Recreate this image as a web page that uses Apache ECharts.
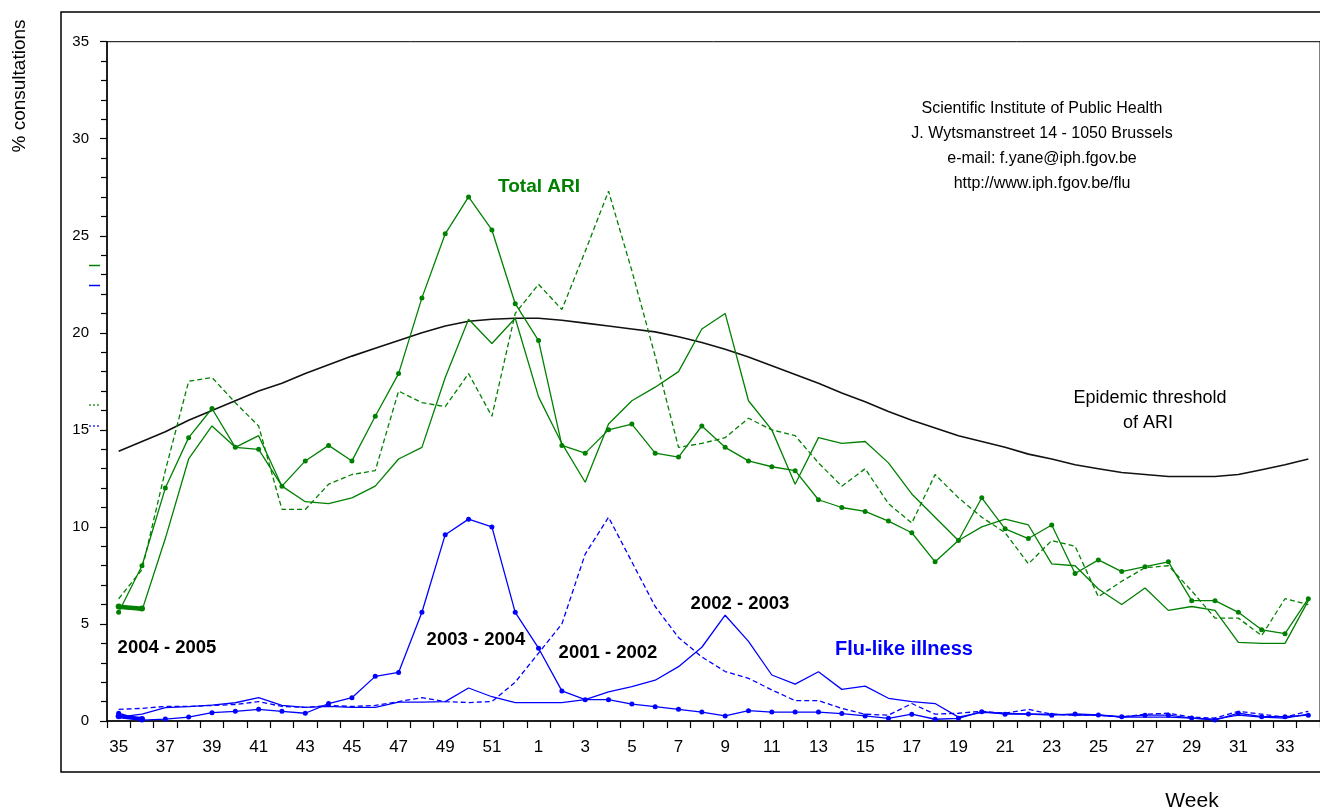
<!DOCTYPE html>
<html>
<head>
<meta charset="utf-8">
<script src="https://cdn.jsdelivr.net/npm/echarts@6/dist/echarts.min.js"></script>
<style>
html,body{margin:0;padding:0;background:#fff;}
#chart{width:1320px;height:810px;}
</style>
</head>
<body>
<div id="chart"></div>
<script>
// Weeks 35..52 then 1..34
const weeks = ['35','36','37','38','39','40','41','42','43','44','45','46','47','48','49','50','51','52',
  '1','2','3','4','5','6','7','8','9','10','11','12','13','14','15','16','17','18','19','20','21','22','23','24','25','26','27','28','29','30','31','32','33','34'];

// Epidemic threshold of ARI
const threshold = [13.9,14.4,14.9,15.5,16.0,16.5,17.0,17.4,17.9,18.35,18.8,19.2,19.6,20.0,20.35,20.6,20.7,20.75,
  20.75,20.65,20.5,20.35,20.2,20.05,19.8,19.5,19.15,18.75,18.3,17.85,17.4,16.9,16.45,15.95,15.5,15.1,14.7,14.4,14.1,13.75,13.5,13.2,13.0,12.8,12.7,12.6,12.6,12.6,12.7,12.95,13.2,13.5];

// Total ARI
const ari0405 = [5.9,5.8];
const ari0304 = [5.6,8.0,12.0,14.6,16.1,14.1,14.0,12.1,13.4,14.2,13.4,15.7,17.9,21.8,25.1,27.0,25.3,21.5,
  19.6,14.2,13.8,15.0,15.3,13.8,13.6,15.2,14.1,13.4,13.1,12.9,11.4,11.0,10.8,10.3,9.7,8.2,9.3,11.5,9.9,9.4,10.1,7.6,8.3,7.7,7.95,8.2,6.2,6.2,5.6,4.7,4.5,6.3];
const ari0203 = [5.8,5.7,9.4,13.5,15.2,14.1,14.7,12.1,11.3,11.2,11.5,12.1,13.5,14.1,17.7,20.7,19.45,20.75,
  16.7,14.3,12.3,15.3,16.5,17.2,18.0,20.2,21.0,16.5,15.0,12.2,14.6,14.3,14.4,13.3,11.7,10.5,9.3,10.0,10.4,10.1,8.1,8.0,6.8,6.0,6.85,5.7,5.9,5.7,4.05,4.0,4.0,6.2];
const ari0102 = [6.3,7.8,12.9,17.5,17.7,16.4,15.2,10.9,10.9,12.2,12.7,12.9,17.0,16.4,16.2,17.9,15.7,21.0,
  22.5,21.2,24.2,27.3,23.2,18.8,14.1,14.3,14.6,15.6,15.0,14.7,13.3,12.1,13.0,11.2,10.2,12.7,11.5,10.5,9.7,8.1,9.3,9.0,6.4,7.2,7.9,8.0,6.7,5.3,5.3,4.4,6.3,6.0];

// Flu-like illness
const flu0405 = [0.25,0.1];
const flu0304 = [0.4,0.05,0.1,0.2,0.43,0.5,0.6,0.5,0.4,0.9,1.2,2.3,2.5,5.6,9.6,10.4,10.0,5.6,
  3.75,1.55,1.1,1.1,0.87,0.74,0.6,0.46,0.26,0.53,0.46,0.46,0.46,0.38,0.26,0.14,0.35,0.09,0.14,0.48,0.35,0.36,0.3,0.36,0.31,0.22,0.3,0.3,0.15,0.05,0.4,0.22,0.22,0.3];
const flu0203 = [0.2,0.35,0.69,0.74,0.82,0.94,1.2,0.8,0.7,0.75,0.7,0.7,0.97,0.97,1.0,1.7,1.25,0.95,
  0.95,0.95,1.1,1.5,1.77,2.1,2.8,3.8,5.45,4.1,2.37,1.9,2.54,1.63,1.8,1.17,1.0,0.9,0.2,0.45,0.4,0.35,0.35,0.3,0.3,0.2,0.2,0.2,0.15,0.1,0.3,0.2,0.15,0.35];
const flu0102 = [0.6,0.65,0.75,0.75,0.8,0.85,1.0,0.75,0.7,0.8,0.75,0.8,1.0,1.2,1.0,0.95,1.0,2.0,
  3.5,5.0,8.6,10.5,8.2,5.9,4.3,3.3,2.55,2.2,1.6,1.05,1.05,0.65,0.35,0.3,0.9,0.35,0.4,0.5,0.4,0.6,0.35,0.3,0.3,0.2,0.35,0.4,0.2,0.15,0.5,0.35,0.2,0.5];

const GREEN = '#008000', BLUE = '#0000ff';
const FONT = "'Liberation Sans', Arial, sans-serif";

function lineSeries(name, data, color, opts) {
  opts = opts || {};
  return {
    name: name, type: 'line', data: data,
    showSymbol: !!opts.symbol, symbol: 'circle', symbolSize: opts.symbolSize || 5,
    itemStyle: { color: color },
    lineStyle: { color: color, width: opts.width || 1.3, type: opts.dash ? [5, 3] : 'solid' },
    emphasis: { disabled: true }, silent: true, animation: false, z: opts.z || 3
  };
}

function label(text, x, y, size, color, bold) {
  return { type: 'text', x: x, y: y, style: { text: text, font: (bold ? 'bold ' : '') + size + 'px ' + FONT, fill: color, align: 'center', verticalAlign: 'middle' } };
}

const chart = echarts.init(document.getElementById('chart'), null, { renderer: 'canvas' });
chart.setOption({
  backgroundColor: '#fff',
  animation: false,
  grid: { left: 107, top: 41.7, width: 1214, height: 679.3, show: true, borderColor: '#000', borderWidth: 1 },
  xAxis: {
    type: 'category', data: weeks, boundaryGap: true,
    axisLine: { lineStyle: { color: '#000', width: 1.5 } },
    axisTick: { show: true, interval: 0, length: 7, lineStyle: { color: '#000', width: 1.2 } },
    axisLabel: { interval: 1, color: '#000', fontSize: 17, fontFamily: FONT, margin: 18 },
    splitLine: { show: false }
  },
  yAxis: {
    type: 'value', min: 0, max: 35, interval: 5,
    axisLine: { show: true, lineStyle: { color: '#000', width: 1.5 } },
    axisTick: { show: true, length: 7, lineStyle: { color: '#000', width: 1.2 } },
    minorTick: { show: true, splitNumber: 5, length: 6, lineStyle: { color: '#000', width: 1.2 } },
    axisLabel: { color: '#000', fontSize: 15, fontFamily: FONT, margin: 18 },
    splitLine: { show: false }
  },
  series: [
    lineSeries('Epidemic threshold', threshold, '#111', { width: 1.6, z: 2 }),
    lineSeries('ARI 2001-2002', ari0102, GREEN, { dash: true }),
    lineSeries('ARI 2002-2003', ari0203, GREEN, {}),
    lineSeries('ARI 2003-2004', ari0304, GREEN, { symbol: true }),
    lineSeries('ARI 2004-2005', ari0405, GREEN, { symbol: true, width: 4, symbolSize: 6, z: 4 }),
    lineSeries('Flu 2001-2002', flu0102, BLUE, { dash: true }),
    lineSeries('Flu 2002-2003', flu0203, BLUE, {}),
    lineSeries('Flu 2003-2004', flu0304, BLUE, { symbol: true }),
    lineSeries('Flu 2004-2005', flu0405, BLUE, { symbol: true, width: 4, symbolSize: 6, z: 4 })
  ],
  graphic: [
    { type: 'rect', shape: { x: 61, y: 12, width: 1300, height: 760 }, style: { fill: null, stroke: '#000', lineWidth: 1.5 }, silent: true, z: 0 },
    { type: 'text', x: 20, y: 86, rotation: Math.PI / 2, style: { text: '% consultations', font: '19px ' + FONT, fill: '#000', align: 'center', verticalAlign: 'middle' } },
    label('Week', 1192, 801, 21, '#000', false),
    label('Scientific Institute of Public Health', 1042, 109, 16, '#000', false),
    label('J. Wytsmanstreet 14 - 1050 Brussels', 1042, 134, 16, '#000', false),
    label('e-mail: f.yane@iph.fgov.be', 1042, 159, 16, '#000', false),
    label('http://www.iph.fgov.be/flu', 1042, 184, 16, '#000', false),
    label('Total ARI', 539, 187, 19, GREEN, true),
    label('Epidemic threshold', 1150, 398, 18, '#000', false),
    label('of ARI', 1148, 423, 18, '#000', false),
    label('2004 - 2005', 167, 648, 18.5, '#000', true),
    label('2003 - 2004', 476, 640, 18.5, '#000', true),
    label('2001 - 2002', 608, 653, 18.5, '#000', true),
    label('2002 - 2003', 740, 604, 18.5, '#000', true),
    label('Flu-like illness', 904, 649, 20, BLUE, true),
    { type: 'line', shape: { x1: 89, y1: 265.5, x2: 100, y2: 265.5 }, style: { stroke: GREEN, lineWidth: 1.5 } },
    { type: 'line', shape: { x1: 89, y1: 285.5, x2: 100, y2: 285.5 }, style: { stroke: BLUE, lineWidth: 1.5 } },
    { type: 'line', shape: { x1: 89, y1: 405, x2: 100, y2: 405 }, style: { stroke: GREEN, lineWidth: 1.2, lineDash: [2, 2] } },
    { type: 'line', shape: { x1: 89, y1: 426, x2: 100, y2: 426 }, style: { stroke: BLUE, lineWidth: 1.2, lineDash: [2, 2] } }
  ]
});
</script>
</body>
</html>
